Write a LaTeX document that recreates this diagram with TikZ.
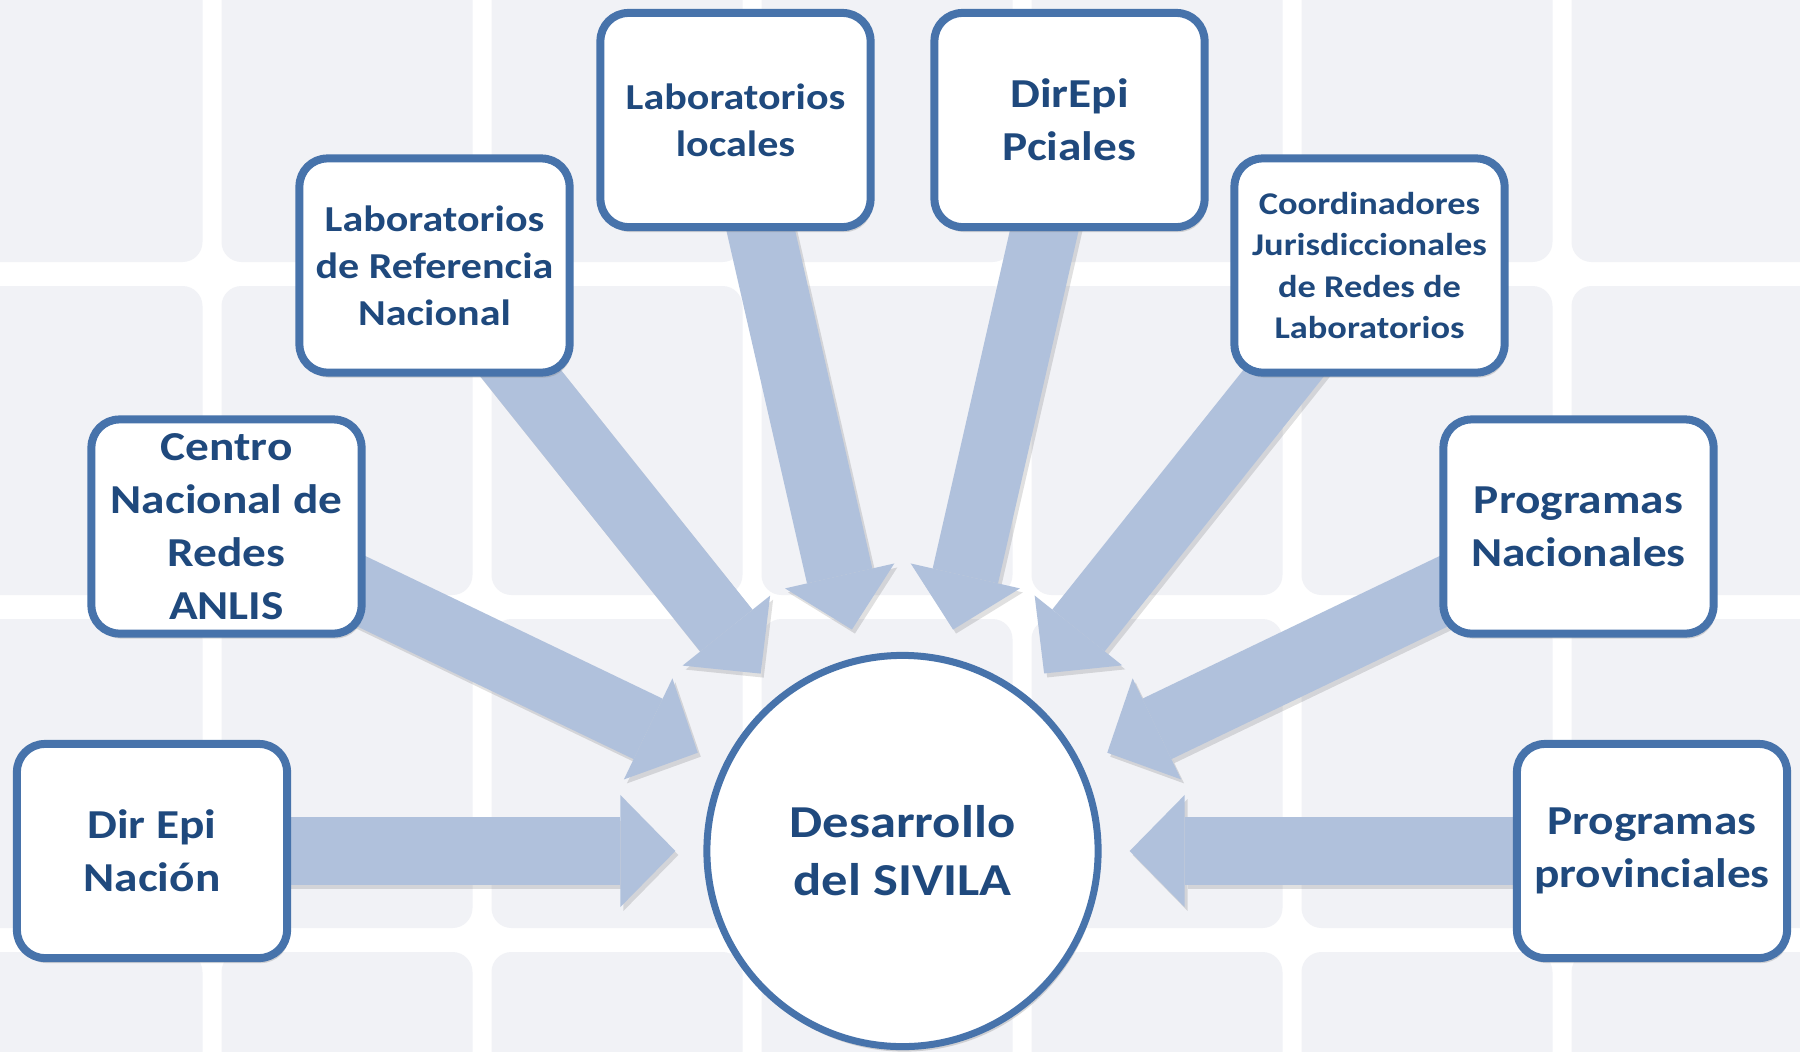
\documentclass[tikz,border=0pt]{standalone}
\usepackage{fontspec}
\setmainfont{Carlito}[FakeStretch=1.15]
\usetikzlibrary{arrows.meta, shadows}

\pgfdeclarelayer{tiles}
\pgfdeclarelayer{arrows}
\pgfsetlayers{tiles,arrows,main}

\newcommand{\labelBig}{\fontsize{11.7}{15.1}\selectfont}
\newcommand{\labelMid}{\fontsize{10.4}{13.4}\selectfont}
\newcommand{\labelSmall}{\fontsize{9.0}{11.7}\selectfont}
\newcommand{\labelHub}{\fontsize{13.0}{16.5}\selectfont}

\begin{document}
\begin{tikzpicture}[x=0.01cm, y=-0.01cm,
    boxStyle/.style={draw=borderColour, fill=white, line width=0.08cm, rounded corners=0.28cm,
        minimum width=2.70cm, minimum height=2.14cm, inner sep=0pt, align=center, text=textColour,
        drop shadow={shadow xshift=0.02cm, shadow yshift=-0.05cm, opacity=0.3}},
    hubStyle/.style={circle, draw=borderColour, fill=white, line width=0.07cm, minimum size=3.91cm,
        inner sep=0pt, align=center, text=textColour, font=\bfseries\labelHub,
        drop shadow={shadow xshift=0.02cm, shadow yshift=-0.05cm, opacity=0.3}},
    arrowStyle/.style={draw=arrowColour, line width=0.67cm, shorten >=2.27cm,
        -{Triangle[width=1.12cm, length=0.55cm, line width=0pt]}},
    arrowShadow/.style={arrowStyle, draw=black, opacity=0.12,
        transform canvas={shift={(0.03cm,-0.04cm)}}}]

    \definecolor{borderColour}{HTML}{4773AB}
    \definecolor{textColour}{HTML}{1F497D}
    \definecolor{arrowColour}{HTML}{B0C1DC}
    \definecolor{tileColour}{HTML}{F1F2F6}

    % Fix the canvas size
    \useasboundingbox (0,0) rectangle (1800,1051);

    % Draw background tiles
    \begin{pgfonlayer}{tiles}
        \fill[white] (0,0) rectangle (1800,1051);
        \begin{scope}
            \clip (0,0) rectangle (1800,1051);
            \foreach \i in {-1,...,6}
                \foreach \j in {-1,...,3}
                    \fill[tileColour, rounded corners=0.2cm] ({221.5+270*\i},{286+333*\j}) rectangle ++(251,309);
        \end{scope}
    \end{pgfonlayer}

    % Place the source boxes
    \node[boxStyle, font=\bfseries\labelBig] (nacion) at (152,851) {Dir Epi\\Nación};
    \node[boxStyle, font=\bfseries\labelBig] (anlis) at (226.5,526.5) {Centro\\Nacional de\\Redes\\ANLIS};
    \node[boxStyle, font=\bfseries\labelMid] (labref) at (434.5,265.5) {Laboratorios\\de Referencia\\Nacional};
    \node[boxStyle, font=\bfseries\labelMid] (labloc) at (735.5,120) {Laboratorios\\locales};
    \node[boxStyle, font=\bfseries\labelBig] (direpi) at (1069.5,120) {DirEpi\\Pciales};
    \node[boxStyle, font=\bfseries\labelSmall] (coord) at (1369.5,265.5) {Coordinadores\\Jurisdiccionales\\de Redes de\\Laboratorios};
    \node[boxStyle, font=\bfseries\labelBig] (prognac) at (1578.5,526.5) {Programas\\Nacionales};
    \node[boxStyle, font=\bfseries\labelBig] (progprov) at (1652,851) {Programas\\provinciales};

    % Central circle
    \node[hubStyle] (sivila) at (902.5,851) {Desarrollo\\del SIVILA};

    % Draw block arrows towards the circle
    \begin{pgfonlayer}{arrows}
        \foreach \src in {nacion, anlis, labref, labloc, direpi, coord, prognac, progprov}{
            \draw[arrowShadow] (\src.center) -- (sivila.center);
            \draw[arrowStyle] (\src.center) -- (sivila.center);
        }
    \end{pgfonlayer}

\end{tikzpicture}
\end{document}
